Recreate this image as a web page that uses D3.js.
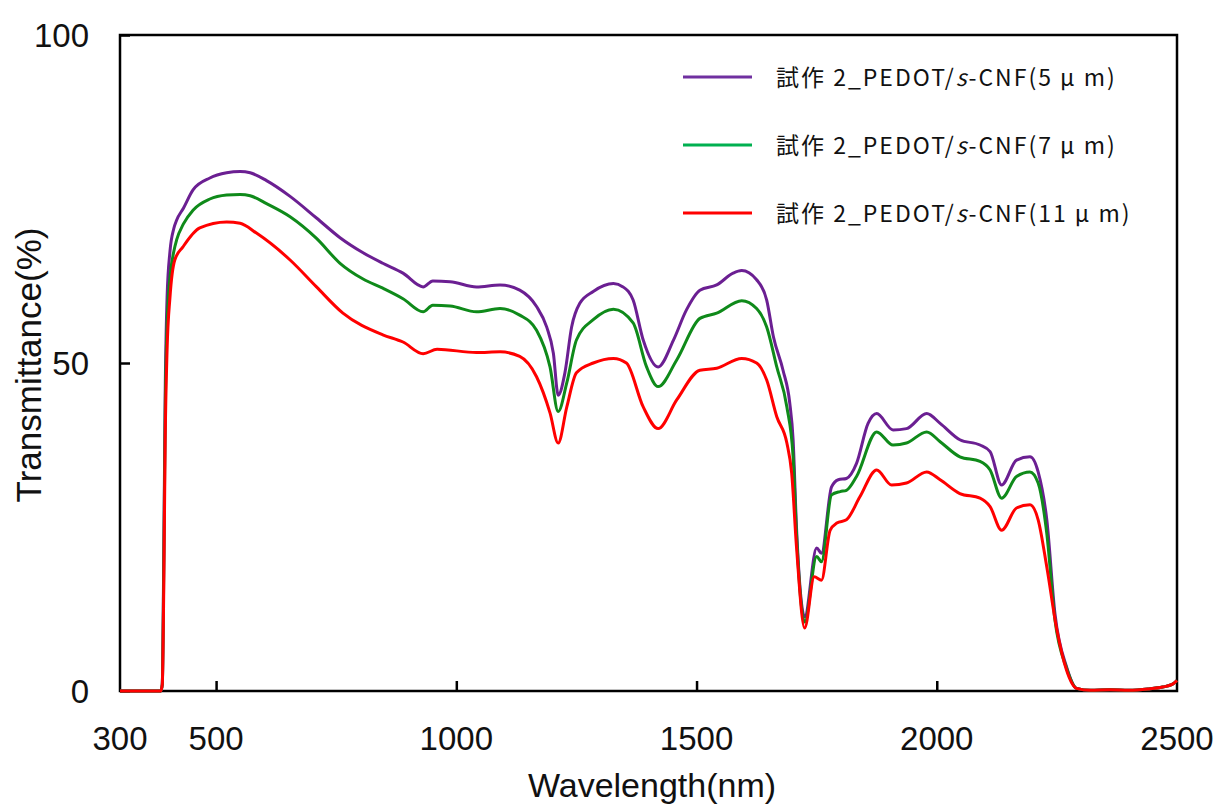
<!DOCTYPE html>
<html><head><meta charset="utf-8">
<script src="https://cdn.jsdelivr.net/npm/d3@7"></script>
<style>body{margin:0;background:#fff}svg{display:block}</style>
</head><body>
<svg id="chart" width="1219" height="806"></svg>
<script>
// ---- data ----
const xTicks = [500, 1000, 1500, 2000];
const xEndLabels = [300, 2500];
const yTicks = [0, 50, 100];
const seriesNames = ["5", "7", "11"];

const wl5 = [300,385,388,391,394,398,404,412,418,432,452,487,522,550,571,605,654,709,758,806,847,889,931,951,987,1042,1091,1132,1167,1188,1202,1212,1226,1240,1257,1285,1327,1347,1368,1389,1420,1452,1479,1507,1542,1576,1594,1625,1646,1660,1680,1694,1701,1708,1725,1750,1760,1781,1795,1812,1833,1857,1875,1909,1937,1979,2007,2048,2090,2111,2135,2166,2194,2211,2229,2246,2270,2291,2320,2360,2400,2440,2470,2490,2500];
const t5  = [0,0,1,20,45,60,67,70.5,71.8,73.6,76.4,78.2,79.0,79.2,79.0,77.8,75.4,72.1,69.1,66.8,65.2,63.7,61.6,62.5,62.4,61.6,61.9,61.1,58.6,55.5,51.5,45.1,48.5,55.5,59.1,60.9,62.1,61.6,59.6,53.5,49.4,53.5,58.1,61.1,61.9,63.7,64.1,62.7,59.6,54.0,48.9,43.9,38.3,25,11.3,21.8,21.0,31.1,32.2,32.4,34.7,40.8,42.3,39.8,40.0,42.3,40.8,38.3,37.5,36.5,31.4,35.2,35.7,33.4,26.1,11.8,3.7,0.4,0.1,0.2,0.1,0.3,0.6,1.0,1.6];

const wl7 = [300,385,388,391,394,398,404,412,418,432,452,487,522,550,571,605,654,709,758,806,847,889,931,951,987,1042,1091,1132,1167,1195,1212,1230,1250,1285,1327,1368,1396,1420,1459,1507,1542,1594,1625,1646,1667,1688,1701,1708,1725,1750,1760,1781,1799,1812,1833,1875,1909,1937,1979,2007,2048,2090,2111,2135,2166,2194,2211,2229,2246,2270,2291,2320,2360,2400,2440,2470,2490,2500];
const t7  = [0,0,1,18,42,56,63,67,68.8,71.2,73.3,75.0,75.6,75.7,75.5,74.3,72.3,69.0,65.2,62.8,61.4,59.8,57.8,58.8,58.7,57.8,58.3,57.3,55.0,49.4,42.6,47.0,53.5,56.6,58.2,56.1,49.4,46.4,50.5,56.8,57.6,59.5,58.3,55.5,49.4,43.3,35.7,24,10.5,20.5,19.7,29.9,30.4,30.6,32.7,39.5,37.5,37.8,39.5,38.0,35.7,35.0,33.7,29.4,32.7,33.4,31.7,24.0,10.8,3.5,0.4,0.1,0.2,0.1,0.3,0.6,1.0,1.6];

const wl11 = [300,385,388,391,394,398,404,414,431,466,522,550,584,654,709,764,847,889,931,960,1042,1091,1132,1167,1195,1212,1230,1250,1285,1327,1354,1389,1420,1459,1507,1542,1594,1625,1646,1667,1688,1698,1708,1725,1745,1760,1778,1792,1812,1840,1875,1906,1937,1979,2007,2048,2090,2111,2135,2166,2194,2211,2229,2250,2270,2291,2320,2360,2400,2440,2470,2490,2500];
const t11 = [0,0,1,15,38,52,60,65.7,67.7,70.6,71.5,71.3,69.8,65.7,61.6,57.6,54.3,53.2,51.4,52.1,51.6,51.7,51.0,47.9,42.4,37.8,43.3,48.5,50.0,50.7,50.0,43.3,40.0,44.4,48.9,49.2,50.7,50.0,47.4,41.8,37.8,33.2,22,9.6,17.4,16.9,24.5,25.6,26.1,29.6,33.7,31.4,31.7,33.4,32.2,30.1,29.4,28.1,24.5,27.9,28.4,26.1,18.9,9.3,3.2,0.4,0.1,0.2,0.1,0.3,0.6,1.0,1.6];

const series = [
  {name: seriesNames[0], wl: wl5,  t: t5,  color: "#6b1f92", legend: "#7030a0"},
  {name: seriesNames[1], wl: wl7,  t: t7,  color: "#0f8a1a", legend: "#00b050"},
  {name: seriesNames[2], wl: wl11, t: t11, color: "#ff0000", legend: "#ff0000"}
];

// ---- layout ----
const svg = d3.select("#chart");
const L = 120, R = 1177, T = 35, B = 691;
const x = d3.scaleLinear().domain([300, 2500]).range([L, R]);
const y = d3.scaleLinear().domain([0, 100]).range([B, T]);
const font = "'Liberation Sans', Arial, sans-serif";

// frame
svg.append("rect").attr("x", L).attr("y", T).attr("width", R - L).attr("height", B - T)
  .attr("fill", "none").attr("stroke", "#000").attr("stroke-width", 2.5);

// x axis ticks (inward)
const xAxis = d3.axisTop(x).tickValues(xTicks).tickSize(10).tickFormat("");
const gx = svg.append("g").attr("transform", `translate(0,${B})`).call(xAxis);
gx.select(".domain").remove();
gx.selectAll("line").attr("stroke", "#000").attr("stroke-width", 2.5);

// y axis ticks (inward)
const yAxis = d3.axisRight(y).tickValues(yTicks).tickSize(10).tickFormat("");
const gy = svg.append("g").attr("transform", `translate(${L},0)`).call(yAxis);
gy.select(".domain").remove();
gy.selectAll("line").attr("stroke", "#000").attr("stroke-width", 2.5);

// lines (drawn over the frame, as in the reference)
const line = d3.line().x(d => x(d[0])).y(d => y(d[1])).curve(d3.curveMonotoneX);
series.forEach(s => {
  const pts = s.wl.map((w, i) => [w, s.t[i]]);
  svg.append("path").datum(pts)
    .attr("d", line).attr("fill", "none")
    .attr("stroke", s.color).attr("stroke-width", 3)
    .attr("stroke-linejoin", "round");
});

// x labels
svg.append("g").selectAll("text").data(xTicks.concat(xEndLabels)).join("text")
  .attr("x", d => x(d)).attr("y", 750)
  .attr("text-anchor", "middle").attr("font-family", font).attr("font-size", 33)
  .attr("fill", "#111").text(d => d);

// y labels
svg.append("g").selectAll("text").data(yTicks).join("text")
  .attr("x", 89).attr("y", d => y(d) + 12)
  .attr("text-anchor", "end").attr("font-family", font).attr("font-size", 33)
  .attr("fill", "#111").text(d => d);

// axis titles
svg.append("text").attr("x", 652).attr("y", 797).attr("text-anchor", "middle")
  .attr("font-family", font).attr("font-size", 34).attr("fill", "#111").text("Wavelength(nm)");
svg.append("text").attr("transform", "translate(41,365) rotate(-90)").attr("text-anchor", "middle")
  .attr("font-family", font).attr("font-size", 35).attr("fill", "#111").text("Transmittance(%)");

// legend
const legY = [77, 145, 213];
series.forEach((s, i) => {
  svg.append("line").attr("x1", 683).attr("x2", 752).attr("y1", legY[i]).attr("y2", legY[i])
    .attr("stroke", s.legend).attr("stroke-width", 3);
  const t = svg.append("text").attr("x", 776).attr("y", legY[i] + 9)
    .attr("font-family", "'Noto Sans CJK JP', sans-serif").attr("font-size", 23)
    .attr("letter-spacing", 2).attr("fill", "#111");
  t.append("tspan").text("試作 2_PEDOT/");
  t.append("tspan").attr("font-style", "italic").text("s");
  t.append("tspan").text("-CNF(" + s.name + " μ m)");
});
</script>
</body></html>
